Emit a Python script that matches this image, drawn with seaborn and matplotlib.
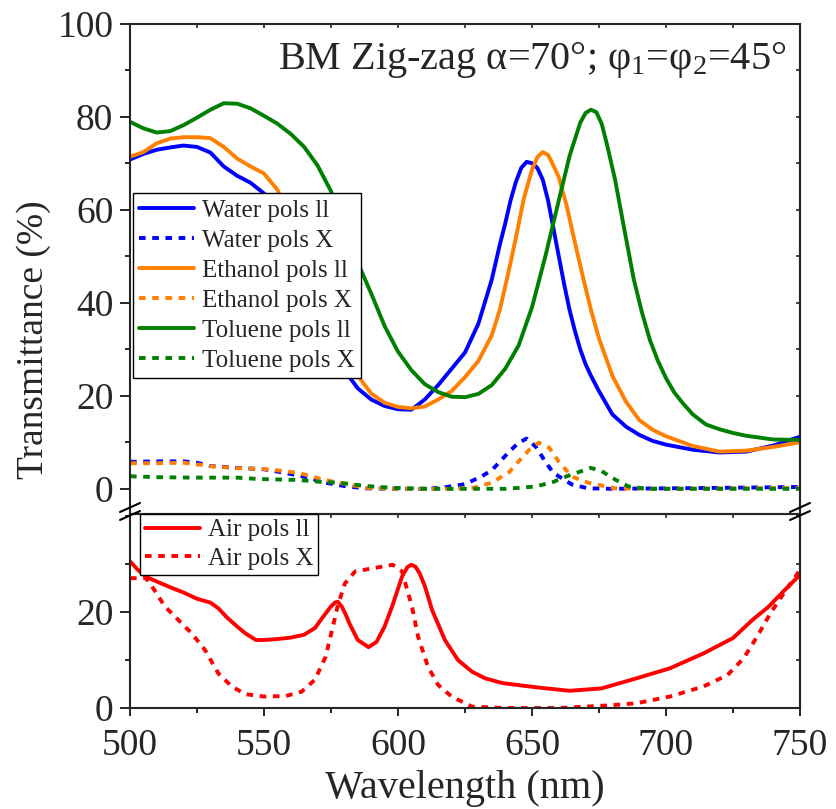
import numpy as np
import pandas as pd
import matplotlib
matplotlib.use("Agg")
import matplotlib.pyplot as plt
import seaborn as sns
from matplotlib.ticker import MultipleLocator
from matplotlib.lines import Line2D

# ---------------- data ----------------
water_ll_wl = [500, 505, 510, 515, 520, 525, 530, 535, 540, 545, 550, 555, 560, 565, 570, 575, 580, 585,
               590, 595, 600, 605, 610, 615, 620, 625, 630, 635, 638, 640, 642, 644, 646, 648, 650, 652,
               654, 656, 658, 660, 662, 664, 666, 668, 670, 672, 675, 680, 685, 690, 695, 700, 710, 720,
               730, 740, 750]
water_ll = [70.8, 72.0, 72.9, 73.4, 73.8, 73.5, 72.3, 69.3, 67.3, 65.8, 63.5, 59.0, 52.0, 44.0, 36.5, 30.0,
            25.5, 21.6, 19.2, 17.8, 17.1, 17.0, 19.2, 22.3, 25.8, 29.3, 35.5, 45.0, 52.5, 57.0, 62.0, 66.0,
            69.0, 70.3, 70.0, 69.0, 66.5, 62.0, 56.0, 50.0, 44.0, 38.5, 34.0, 30.0, 26.8, 24.3, 21.0, 16.0,
            13.4, 11.6, 10.3, 9.5, 8.4, 7.8, 8.0, 9.3, 11.2]

ethanol_ll_wl = [500, 505, 510, 515, 520, 525, 530, 535, 540, 545, 550, 555, 560, 565, 570, 575, 580, 585,
                 590, 595, 600, 605, 610, 615, 620, 625, 630, 635, 638, 641, 644, 647, 650, 652, 654, 656,
                 658, 660, 663, 666, 669, 672, 675, 680, 685, 690, 695, 700, 710, 720, 730, 740, 750]
ethanol_ll = [71.4, 72.4, 74.3, 75.3, 75.6, 75.6, 75.4, 73.5, 71.0, 69.3, 67.8, 64.3, 58.0, 50.0, 41.5, 34.0,
              28.5, 24.3, 20.5, 18.5, 17.6, 17.3, 17.7, 19.2, 21.0, 24.0, 27.5, 33.0, 38.5, 46.0, 54.0, 62.5,
              68.6, 71.3, 72.4, 71.8, 69.5, 67.0, 60.7, 53.0, 45.6, 38.5, 32.3, 24.3, 18.8, 14.8, 12.7, 11.3,
              9.2, 8.0, 8.2, 9.0, 10.0]

toluene_ll_wl = [500, 505, 510, 515, 520, 525, 530, 535, 540, 545, 550, 555, 560, 565, 570, 575, 580, 585,
                 590, 595, 600, 605, 610, 615, 620, 625, 630, 635, 640, 645, 650, 655, 660, 664, 668, 670,
                 672, 674, 676, 678, 681, 684, 688, 691, 694, 697, 700, 703, 706, 710, 715, 720, 725, 730,
                 740, 750]
toluene_ll = [78.9, 77.5, 76.6, 76.9, 78.2, 79.8, 81.5, 82.9, 82.8, 81.8, 80.2, 78.5, 76.3, 73.5, 69.5, 64.0,
              56.0, 48.6, 42.0, 35.0, 29.5, 25.5, 22.5, 20.8, 19.8, 19.7, 20.4, 22.3, 25.8, 30.8, 39.0, 50.0,
              62.0, 71.5, 78.7, 80.8, 81.5, 81.0, 78.5, 74.0, 66.5, 57.2, 45.0, 38.0, 32.0, 27.5, 23.8, 20.8,
              18.6, 16.0, 13.8, 12.8, 12.0, 11.4, 10.6, 10.5]

water_x_wl = [500, 510, 520, 525, 530, 540, 550, 558, 565, 573, 581, 588, 600, 610, 616, 625, 631, 635, 638,
              641.5, 645, 648, 651.5, 655, 658, 665, 671, 680, 700, 720, 750]
water_x = [5.8, 5.9, 5.9, 5.6, 4.9, 4.5, 4.2, 3.4, 2.6, 1.3, 0.5, 0.1, 0.0, 0.0, 0.2, 1.0, 2.6, 4.0, 5.8,
           8.0, 9.9, 10.8, 9.0, 5.8, 3.4, 0.9, 0.1, 0.0, 0.1, 0.2, 0.4]

ethanol_x_wl = [500, 510, 520, 531, 541, 549, 556, 563, 572, 578, 588, 600, 620, 628, 635, 641.5, 645.5, 649,
                652.5, 656.5, 660, 665, 671, 681, 700, 750]
ethanol_x = [5.5, 5.5, 5.6, 4.8, 4.4, 4.3, 3.9, 3.4, 2.0, 1.3, 0.2, 0.0, 0.0, 0.2, 1.3, 3.6, 6.2, 8.4,
             9.9, 8.8, 5.8, 2.6, 1.3, 0.1, 0.0, 0.2]

toluene_x_wl = [500, 510, 523, 540, 548, 563, 571, 578, 588, 598, 610, 640, 645, 651.5, 658, 663, 668, 672,
                676, 681, 686, 693, 750]
toluene_x = [2.7, 2.5, 2.4, 2.4, 2.1, 1.9, 1.5, 1.3, 0.6, 0.2, 0.0, 0.0, 0.2, 0.5, 1.5, 2.7, 3.7, 4.5,
             3.8, 2.0, 0.5, 0.0, 0.0]

air_ll_wl = [500, 503, 506, 510, 515, 520, 525, 530, 533, 536, 540, 543, 547, 550, 555, 560, 565, 569, 572,
             575, 576.5, 577.5, 579, 580.5, 582, 585, 589, 592, 595, 598, 601.5, 603.5, 605, 606.5, 608,
             610, 612.7, 617.5, 622.4, 627.6, 632.5, 639, 652, 664, 676, 689, 701.5, 714, 725, 732.5, 738,
             745, 750]
air_ll = [30.6, 28.8, 27.4, 26.4, 25.2, 24.1, 22.8, 22.0, 20.8, 19.0, 17.0, 15.6, 14.2, 14.2, 14.4, 14.7,
          15.3, 16.7, 19.0, 21.2, 22.0, 22.2, 21.2, 19.5, 17.5, 14.2, 12.7, 13.8, 17.0, 21.5, 27.4, 29.4,
          29.9, 29.5, 28.2, 25.5, 20.5, 14.2, 10.0, 7.6, 6.2, 5.2, 4.3, 3.6, 4.1, 6.2, 8.3, 11.4, 14.6,
          18.5, 21.0, 25.0, 27.8]

air_x_wl = [500, 506, 509, 513, 518, 523, 528, 533, 538, 543, 550, 558, 564, 569, 573, 575.4, 577.6, 580.2,
            584, 591, 598, 601.5, 605.2, 607.5, 611.2, 615, 620, 627.6, 640, 660, 680, 689, 701.5, 714, 723,
            729, 734, 739, 744, 750]
air_x = [27.1, 27.1, 24.7, 21.2, 18.4, 15.6, 12.1, 7.2, 4.5, 2.9, 2.4, 2.5, 3.4, 5.9, 10.7, 16.3, 21.5, 26.0,
         28.5, 29.2, 29.9, 28.5, 21.2, 14.9, 8.6, 4.8, 2.4, 0.3, 0.0, 0.0, 0.6, 1.0, 2.4, 4.5, 6.9,
         10.4, 14.9, 19.8, 24.0, 28.8]

x_ticks = [500, 550, 600, 650, 700, 750]
y_ticks_top = [0, 20, 40, 60, 80, 100]
y_ticks_bottom = [0, 20]

# ---------------- style ----------------
sns.set_style("ticks")
plt.rcParams["font.family"] = ["Liberation Serif", "DejaVu Serif"]
plt.rcParams["mathtext.fontset"] = "custom"
plt.rcParams["mathtext.rm"] = "Liberation Serif"
plt.rcParams["mathtext.it"] = "Liberation Serif:italic"
plt.rcParams["axes.linewidth"] = 1.5

BLUE, ORANGE, GREEN, RED = "#0000FF", "#FF8000", "#008000", "#FF0000"
LW = 2.8
DOT = (0, (1.7, 1.7))

fig = plt.figure(figsize=(8.36, 8.09), dpi=100)
ax_top = fig.add_axes([0.1555, 0.3659, 0.8014, 0.6048])
ax_bot = fig.add_axes([0.1555, 0.1248, 0.8014, 0.2399])

series_top = [
    (water_ll_wl, water_ll, BLUE, "-", "Water pols ll"),
    (water_x_wl, water_x, BLUE, DOT, "Water pols X"),
    (ethanol_ll_wl, ethanol_ll, ORANGE, "-", "Ethanol pols ll"),
    (ethanol_x_wl, ethanol_x, ORANGE, DOT, "Ethanol pols X"),
    (toluene_ll_wl, toluene_ll, GREEN, "-", "Toluene pols ll"),
    (toluene_x_wl, toluene_x, GREEN, DOT, "Toluene pols X"),
]
for wl, vals, c, ls, lab in series_top:
    df = pd.DataFrame({"wl": wl, "T": vals})
    sns.lineplot(data=df, x="wl", y="T", ax=ax_top, color=c, lw=LW, linestyle=ls, label=lab)

series_bot = [
    (air_ll_wl, air_ll, RED, "-", "Air pols ll"),
    (air_x_wl, air_x, RED, DOT, "Air pols X"),
]
for wl, vals, c, ls, lab in series_bot:
    df = pd.DataFrame({"wl": wl, "T": vals})
    sns.lineplot(data=df, x="wl", y="T", ax=ax_bot, color=c, lw=LW, linestyle=ls, label=lab)

TICK_FS = 27
for ax in (ax_top, ax_bot):
    ax.set_xlim(500, 750)
    ax.set_xlabel("")
    ax.set_ylabel("")
    ax.xaxis.set_minor_locator(MultipleLocator(25))
    ax.yaxis.set_minor_locator(MultipleLocator(10))
    for sp in ax.spines.values():
        sp.set_visible(True)
        sp.set_linewidth(1.5)

# top axes
ax_top.set_ylim(-5.2, 100)
ax_top.set_yticks(y_ticks_top)
ax_top.set_xticks(x_ticks)
ax_top.spines["bottom"].set_visible(False)
ax_top.tick_params(axis="y", which="major", direction="out", length=7, width=1.4, labelsize=TICK_FS,
                   left=True, right=False, pad=5)
ax_top.tick_params(axis="y", which="minor", direction="out", length=3.8, width=1.4, left=True, right=False)
ax_top.tick_params(axis="x", which="both", direction="in", length=3, width=1.2, bottom=False, top=True,
                   labelbottom=False, labeltop=False)
sec = ax_top.secondary_yaxis("right")
sec.set_yticks(y_ticks_top)
sec.yaxis.set_minor_locator(MultipleLocator(10))
sec.tick_params(which="both", direction="in", length=3, width=1.2, labelright=False)
sec.spines["right"].set_linewidth(1.5)

# bottom axes
ax_bot.set_ylim(0, 40.5)
ax_bot.set_yticks(y_ticks_bottom)
ax_bot.set_xticks(x_ticks)
ax_bot.tick_params(axis="y", which="major", direction="out", length=7, width=1.4, labelsize=TICK_FS,
                   left=True, right=False, pad=5)
ax_bot.tick_params(axis="y", which="minor", direction="out", length=3.8, width=1.4, left=True, right=False)
ax_bot.tick_params(axis="x", which="major", direction="out", length=6, width=1.4, labelsize=TICK_FS,
                   bottom=True, top=False, pad=9)
ax_bot.tick_params(axis="x", which="minor", direction="out", length=3.8, width=1.4, bottom=True, top=False)
secx = ax_bot.secondary_xaxis("top")
secx.set_xticks(x_ticks)
secx.xaxis.set_minor_locator(MultipleLocator(25))
secx.tick_params(which="both", direction="in", length=3, width=1.2, labeltop=False)
secx.spines["top"].set_linewidth(1.5)
secy = ax_bot.secondary_yaxis("right")
secy.set_yticks(y_ticks_bottom)
secy.yaxis.set_minor_locator(MultipleLocator(10))
secy.tick_params(which="both", direction="in", length=3, width=1.2, labelright=False)
secy.spines["right"].set_linewidth(1.5)

# legends
h, l = ax_top.get_legend_handles_labels()
leg1 = ax_top.legend(h, l, loc="upper left", bbox_to_anchor=(0.0045, 0.654), fontsize=18,
                     frameon=True, fancybox=False, edgecolor="black", framealpha=1,
                     handlelength=2.2, handletextpad=0.3, labelspacing=0.3, borderpad=0.25,
                     borderaxespad=0)
leg1.get_frame().set_linewidth(1.0)
h2, l2 = ax_bot.get_legend_handles_labels()
leg2 = ax_bot.legend(h2, l2, loc="upper left", bbox_to_anchor=(0.015, 1.0), fontsize=18,
                     frameon=True, fancybox=False, edgecolor="black", framealpha=1,
                     handlelength=2.2, handletextpad=0.3, labelspacing=0.25, borderpad=0.2,
                     borderaxespad=0)
leg2.get_frame().set_linewidth(1.0)

# annotation
ax_top.text(0.60, 0.925, "BM Zig-zag α=70°; φ$_1$=φ$_2$=45°", transform=ax_top.transAxes,
            ha="center", va="center", fontsize=29)

# axis labels
fig.text(0.04, 1 - 340 / 809, "Transmittance (%)", rotation=90, ha="center", va="center", fontsize=27)
fig.text(465 / 836, 2 / 809, "Wavelength (nm)", ha="center", va="bottom", fontsize=29)

# break marks
W, H = 836, 809
for xc in (130, 800):
    for dy in (0, 8):
        fig.add_artist(Line2D([(xc - 10) / W, (xc + 10) / W],
                              [1 - (512 + dy) / H, 1 - (503 + dy) / H],
                              transform=fig.transFigure, color="black", lw=1.5))

fig.savefig("out.png", dpi=100)
